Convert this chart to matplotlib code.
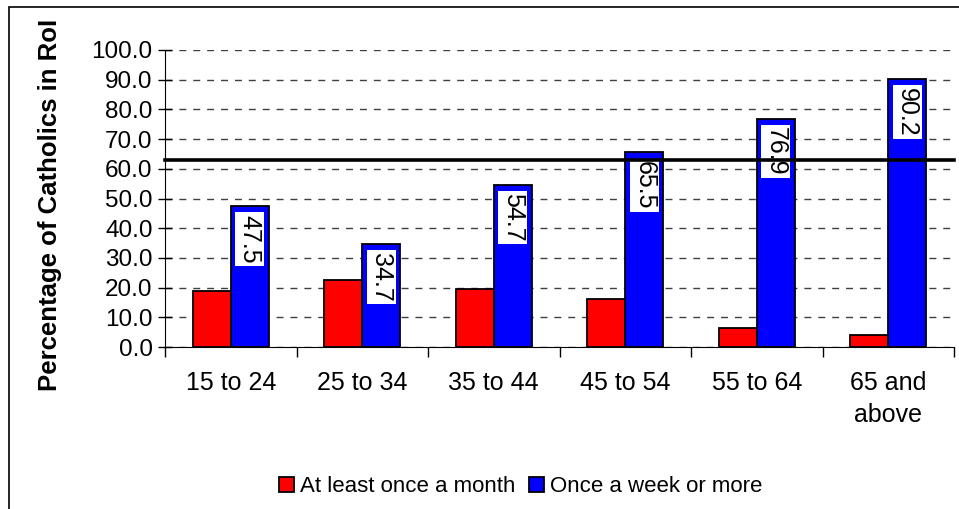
import numpy as np
from matplotlib import pyplot as plt
from matplotlib.patches import Rectangle

plt.rcParams['font.family'] = ['Liberation Sans', 'DejaVu Sans']

categories = ["15 to 24", "25 to 34", "35 to 44", "45 to 54", "55 to 64", "65 and\nabove"]
monthly = [19.0, 22.4, 19.6, 16.3, 6.3, 4.2]
weekly = [47.5, 34.7, 54.7, 65.5, 76.9, 90.2]
average = 63.0
series_names = ["At least once a month", "Once a week or more"]

FS = 18

fig = plt.figure(figsize=(9.59, 5.09), dpi=100)
ax = fig.add_axes([165 / 959, 1 - 347 / 509, (954 - 165) / 959, (347 - 50) / 509])

x = np.arange(len(categories))
w = 0.29
ax.bar(x - w / 2, monthly, w, color="#ff0000", edgecolor="black", linewidth=1.3,
       label=series_names[0], zorder=3)
ax.bar(x + w / 2, weekly, w, color="#0000ff", edgecolor="black", linewidth=1.3,
       label=series_names[1], zorder=3)

for xi, v in zip(x, weekly):
    ax.text(xi + w / 2, v - 2.9, f"{v:.1f}", rotation=-90, ha="center", va="top",
            fontsize=FS, zorder=4,
            bbox=dict(boxstyle="square,pad=0.1", fc="white", ec="none"))

ax.axhline(average, color="black", lw=2.6, zorder=5, clip_on=False)

ax.set_xlim(-0.5, len(categories) - 0.5)
ax.set_ylim(0, 100)
ax.set_yticks(np.arange(0, 101, 10))
ax.set_yticklabels([f"{t:.1f}" for t in np.arange(0, 101, 10)], fontsize=17.5)
ax.tick_params(axis="y", direction="inout", length=10, width=1, pad=4)
ax.yaxis.grid(True, color="#404040", lw=1, dashes=(5, 5), zorder=0)
ax.set_axisbelow(True)

ax.set_xticks(np.arange(-0.5, len(categories), 1))
ax.set_xticklabels([])
ax.set_xticks(x, minor=True)
ax.set_xticklabels(categories, minor=True, fontsize=FS)
for lab in ax.get_xticklabels(minor=True):
    lab.set_linespacing(1.45)
ax.tick_params(axis="x", which="major", direction="out", length=7, width=1)
ax.tick_params(axis="x", which="minor", length=0, pad=17)

for s in ["top", "right"]:
    ax.spines[s].set_visible(False)

fig.text(50 / 959, 1 - 205 / 509, "Percentage of Catholics in RoI", rotation=90,
         ha="center", va="center", fontsize=18.5, fontweight="bold")

handles, labels = ax.get_legend_handles_labels()
fig.legend(handles, labels, loc="center", bbox_to_anchor=(521 / 959, 1 - 487 / 509),
           ncol=2, frameon=False, fontsize=16, handlelength=0.65, handleheight=0.65,
           handletextpad=0.3, columnspacing=0.6)

fig.add_artist(Rectangle((9 / 959, -0.1), 2, 1 - 7 / 509 + 0.1, transform=fig.transFigure,
                         fill=False, ec="black", lw=1.2))

fig.savefig("out.png", dpi=100)
